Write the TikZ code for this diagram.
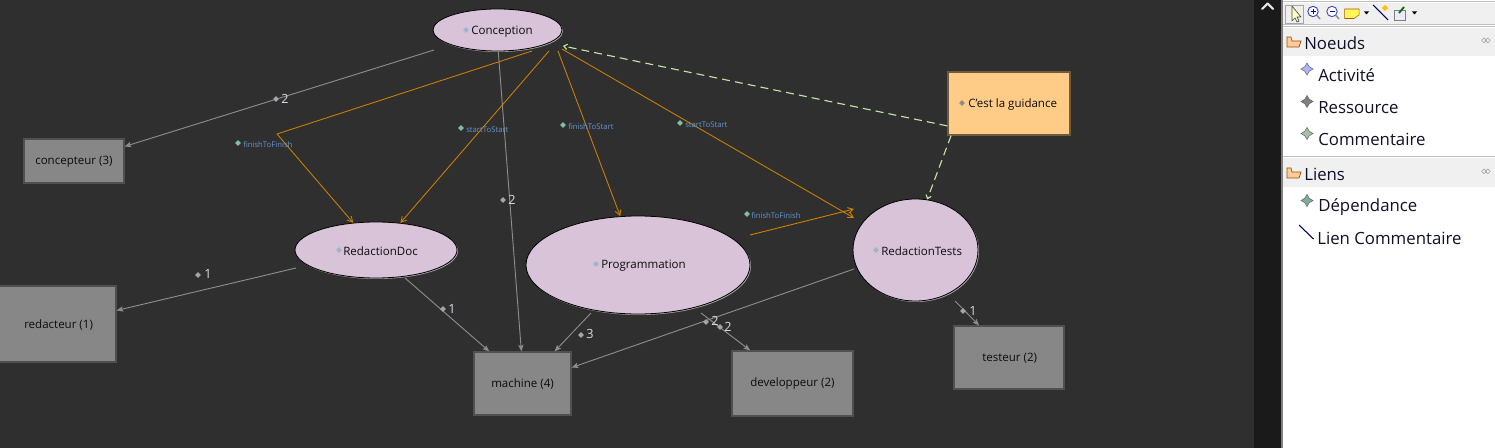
\documentclass[tikz,border=0pt]{standalone}
\usepackage{fontspec}
\setmainfont{Open Sans}
\usetikzlibrary{arrows.meta,shapes.geometric}
\definecolor{bgdark}{HTML}{2F2F2F}
\definecolor{stripdark}{HTML}{1A1A1A}
\definecolor{activ}{HTML}{D9C3D9}
\definecolor{resfill}{HTML}{878787}
\definecolor{resedge}{HTML}{505050}
\definecolor{notefill}{HTML}{FFCC88}
\definecolor{noteedge}{HTML}{6E5B3C}
\definecolor{depline}{HTML}{CC8000}
\definecolor{resline}{HTML}{8C8C8C}
\definecolor{dashline}{HTML}{C6E0A6}
\definecolor{deplabel}{HTML}{6497D0}
\definecolor{numlabel}{HTML}{DADAE6}
\definecolor{panelbar}{HTML}{F0F0F0}
\definecolor{sepgray}{HTML}{C0C0C0}
\definecolor{paneltext}{HTML}{101028}
\definecolor{depmk}{HTML}{7FC0A8}
\definecolor{capmk}{HTML}{9DB4CC}
\tikzset{
  x=0.75pt,y=-0.75pt,
  activity/.style={ellipse,draw=black,line width=0.6pt,fill=activ,inner sep=0pt},
  resbox/.style={rectangle,draw=resedge,line width=0.8pt,fill=resfill,inner sep=0pt},
  notebox/.style={rectangle,draw=noteedge,line width=0.9pt,fill=notefill,inner sep=0pt},
  txt/.style={inner sep=0pt,anchor=west,text=black!95,font=\fontsize{8.65}{11}\selectfont},
  deptxt/.style={inner sep=0pt,anchor=west,text=deplabel,font=\fontsize{5.8}{7}\selectfont},
  numtxt/.style={inner sep=0pt,anchor=west,text=numlabel,font=\fontsize{9.5}{11}\selectfont},
  paneltxt/.style={inner sep=0pt,anchor=west,text=paneltext,font=\fontsize{12.6}{15}\selectfont},
  dmk/.style={diamond,inner sep=0pt,minimum width=4.4pt,minimum height=4.4pt,fill=#1},
  iconmk/.style={star,star points=4,star point ratio=1.9,inner sep=0pt,minimum size=9pt,fill=#1,draw=black!60,line width=0.4pt},
  resarrow/.style={draw=resline,line width=0.7pt,-{Stealth[length=5pt,width=4pt,inset=1pt]}},
  deparrow/.style={draw=depline,line width=0.65pt,-{Straight Barb[length=4pt,width=4.4pt]}},
  noteline/.style={draw=dashline,line width=0.85pt,dash pattern=on 6pt off 3.8pt},
}
\begin{document}
\begin{tikzpicture}
\useasboundingbox (0,0) rectangle (1495,448);
\clip (0,0) rectangle (1495,448);
% backgrounds
\fill[bgdark] (0,0) rectangle (1254,448);
\fill[stripdark] (1254,0) rectangle (1281,448);
\fill[white] (1281,0) rectangle (1495,448);
\fill[bgdark!60] (1281,0) rectangle (1283,448);
\draw[white!90!black,line width=1.6pt,line cap=round,line join=round] (1262,9) -- (1267.5,3.5) -- (1273,9);

% activities (soft lower-right edge first)
\fill[white!65!black] (498.5,31) ellipse [x radius=64.5,y radius=21];
\fill[white!65!black] (377,251) ellipse [x radius=81,y radius=28];
\fill[white!65!black] (639,266) ellipse [x radius=112,y radius=49];
\fill[white!65!black] (916.5,251) ellipse [x radius=62.5,y radius=51];
\node[activity,minimum width=129*0.75pt,minimum height=42*0.75pt] (conception) at (497.5,30) {};
\node[activity,minimum width=162*0.75pt,minimum height=56*0.75pt] (doc) at (376,250) {};
\node[activity,minimum width=224*0.75pt,minimum height=98*0.75pt] (prog) at (638,265) {};
\node[activity,minimum width=125*0.75pt,minimum height=102*0.75pt] (tests) at (915.5,250) {};

% resources
\node[resbox,minimum width=100*0.75pt,minimum height=44*0.75pt] (concepteur) at (74,161) {};
\node[resbox,minimum width=126*0.75pt,minimum height=76*0.75pt] (redacteur) at (53,324) {};
\node[resbox,minimum width=97*0.75pt,minimum height=63*0.75pt] (machine) at (522.5,383.5) {};
\node[resbox,minimum width=121*0.75pt,minimum height=65*0.75pt] (developpeur) at (792.5,383.5) {};
\node[resbox,minimum width=110*0.75pt,minimum height=63*0.75pt] (testeur) at (1009,357.5) {};
\node[notebox,minimum width=122*0.75pt,minimum height=63*0.75pt] (note) at (1009,103.5) {};
\node[txt] (tConcepteur) at (35,162) {concepteur (3)};
\node[txt] (tRedacteur) at (24,325) {redacteur (1)};
\node[txt] (tMachine) at (491,384) {machine (4)};
\node[txt] (tDevel) at (750,384) {developpeur (2)};
\node[txt] (tTesteur) at (982,358) {testeur (2)};

% free ends of the connectors
\coordinate (sConcA) at (434,50);
\coordinate (sConcB) at (532,51);
\coordinate (bend) at (277,134);
\coordinate (sConcC) at (549,51);
\coordinate (sConcD) at (558,51);
\coordinate (sConcE) at (562,49);
\coordinate (eTestsA) at (854,218);
\coordinate (sProg) at (750,235);
\coordinate (eTestsB) at (854,209);
\coordinate (eConc) at (563,46);
\coordinate (sDocA) at (296,268);
\coordinate (sDocB) at (405,278);
\coordinate (sProgB) at (591,313);
\coordinate (sProgC) at (701,313);
\coordinate (sTestsA) at (854,269);
\coordinate (sTestsB) at (955,301);

% resource links
\draw[resarrow] (sConcA) -- (concepteur.16.7);
\draw[resarrow] (conception.272) -- (machine.92.7);
\draw[resarrow] (sDocA) -- (redacteur.12.5);
\draw[resarrow] (sDocB) -- (machine.136.8);
\draw[resarrow] (sProgB) -- (machine.45.9);
\draw[resarrow] (sProgC) -- (developpeur.142.6);
\draw[resarrow] (sTestsA) -- (machine.18.8);
\draw[resarrow] (sTestsB) -- (testeur.133.6);

% dependencies
\draw[deparrow,line join=miter] (sConcB) -- (bend) -- (doc.130.6);
\draw[deparrow] (sConcC) -- (doc.48.4);
\draw[deparrow] (sConcD) -- (prog.110);
\draw[deparrow] (sConcE) -- (eTestsA);
\draw[deparrow] (sProg) -- (eTestsB);

% comment links
\draw[noteline,-{Straight Barb[length=2.5pt,width=4pt]}] (note.200.2) -- (eConc);
\draw[noteline,-{Straight Barb[length=2.5pt,width=4pt]}] (note.209.4) -- (tests.77);

% node captions
\node[dmk=capmk] (mkConc) at (466,30) {};
\node[txt] (tConc) at (471,31.5) {Conception};
\node[dmk=capmk] (mkDoc) at (339,250) {};
\node[txt] (tDoc) at (343,251.5) {RedactionDoc};
\node[dmk=capmk] (mkProg) at (596,264) {};
\node[txt] (tProg) at (601,265.5) {Programmation};
\node[dmk=capmk] (mkTests) at (876,250) {};
\node[txt] (tTests) at (881,251.5) {RedactionTests};
\node[dmk=black!45] (mkNote) at (962,103) {};
\node[txt] (tNote) at (968,104.5) {C'est la guidance};

% dependency labels
\node[dmk=depmk] (mkA) at (238,143) {};
\node[deptxt] (lA) at (243,145) {finishToFinish};
\node[dmk=depmk] (mkB) at (461,128) {};
\node[deptxt] (lB) at (466,130) {startToStart};
\node[dmk=depmk] (mkC) at (563,125) {};
\node[deptxt] (lC) at (568,127) {finishToStart};
\node[dmk=depmk] (mkD) at (680,123) {};
\node[deptxt] (lD) at (685,125) {startToStart};
\node[dmk=depmk] (mkE) at (747,214) {};
\node[deptxt] (lE) at (751,216) {finishToFinish};

% resource link labels
\node[dmk=gray!70!white] (mkF) at (276,99) {};
\node[numtxt] (nF) at (281,99) {2};
\node[dmk=gray!70!white] (mkG) at (503,200) {};
\node[numtxt] (nG) at (508,200) {2};
\node[dmk=gray!70!white] (mkH) at (198,275) {};
\node[numtxt] (nH) at (204,274) {1};
\node[dmk=gray!70!white] (mkI) at (443,309) {};
\node[numtxt] (nI) at (448,309) {1};
\node[dmk=gray!70!white] (mkJ) at (581,335) {};
\node[numtxt] (nJ) at (586,334) {3};
\node[dmk=gray!70!white] (mkK) at (706,322) {};
\node[numtxt] (nK) at (711,321) {2};
\node[dmk=gray!70!white] (mkL) at (720,327) {};
\node[numtxt] (nL) at (724,327) {2};
\node[dmk=gray!70!white] (mkM) at (963,311) {};
\node[numtxt] (nM) at (969,311) {1};

% right-hand palette
\fill[panelbar] (1283,3) rectangle (1495,25);
\draw[sepgray,line width=0.75pt] (1283,2) -- (1495,2);
\draw[sepgray,line width=0.75pt] (1283,25) -- (1495,25);
\fill[panelbar] (1283,28) rectangle (1495,56);
\fill[panelbar] (1283,158) rectangle (1495,187);
\draw[sepgray,line width=0.75pt] (1283,27) -- (1495,27);
\draw[sepgray,line width=0.75pt] (1283,156.5) -- (1495,156.5);
% toolbar
\draw[gray!70,line width=0.5pt,fill=panelbar] (1285.5,5) rectangle (1303,23);
\draw[black!70,fill=yellow!25,line width=0.5pt,line join=round] (1292,6) -- (1292,21) -- (1295,18) -- (1297,22) -- (1299,21) -- (1297,17) -- (1301,17) -- cycle;
\draw[blue!50!gray,line width=0.7pt,fill=white] (1313,11.5) circle [radius=5.2];
\draw[black!45,line width=1.1pt] (1317,15.5) -- (1320,19);
\draw[blue!70!black,line width=0.6pt] (1310.5,11.5) -- (1315.5,11.5) (1313,9) -- (1313,14);
\draw[blue!40!gray,line width=0.7pt,fill=white] (1332,11.5) circle [radius=5.2];
\draw[black!45,line width=1.1pt] (1336,15.5) -- (1339,19);
\draw[blue!70!black,line width=0.6pt] (1329.5,11.5) -- (1334.5,11.5);
\fill[yellow!65!white,draw=orange!70!black,line width=0.4pt] (1344.5,9) -- (1359,9) -- (1359,15) -- (1354,18.5) -- (1344.5,18.5) -- cycle;
\fill[black] (1364,11.5) -- (1369,11.5) -- (1366.5,14.5) -- cycle;
\draw[blue!40!black,line width=0.8pt] (1373,5) -- (1388,20);
\node[diamond,fill=orange!50!yellow,inner sep=0pt,minimum width=5pt,minimum height=5pt] (icLink) at (1385,8) {};
\fill[blue!8,draw=gray,line width=0.4pt] (1394,10) rectangle (1405,20);
\draw[green!45!black,line width=1.4pt] (1399,13) -- (1404,7);
\fill[black] (1412,11.5) -- (1417,11.5) -- (1414.5,14.5) -- cycle;
% folder icons
\fill[orange!40!white,draw=orange!60!black,line width=0.5pt] (1287,37) -- (1287,47) -- (1299,47) -- (1301,41) -- (1292,41) -- (1291,37) -- cycle;
\fill[orange!40!white,draw=orange!60!black,line width=0.5pt] (1287,168) -- (1287,178) -- (1299,178) -- (1301,172) -- (1292,172) -- (1291,168) -- cycle;
% headers
\node[paneltxt] (hNoeuds) at (1304,43) {Noeuds};
\node[paneltxt] (hLiens) at (1304,174) {Liens};
\node[text=black!50,inner sep=0pt,font=\fontsize{8}{8}\selectfont] (colA) at (1486,41.5) {$\diamond\!\diamond$};
\node[text=black!50,inner sep=0pt,font=\fontsize{8}{8}\selectfont] (colB) at (1486,172.5) {$\diamond\!\diamond$};
% entries
\node[iconmk=blue!30!white] (icA) at (1307,69) {};
\node[paneltxt] (pA) at (1318,75) {Activité};
\node[iconmk=gray] (icB) at (1307,101.5) {};
\node[paneltxt] (pB) at (1318,108) {Ressource};
\node[iconmk=green!20!gray!60!white] (icC) at (1307,133.5) {};
\node[paneltxt] (pC) at (1318,139) {Commentaire};
\node[iconmk=depmk!70!gray] (icD) at (1307,200.5) {};
\node[paneltxt] (pD) at (1318,207) {Dépendance};
\draw[blue!40!black,line width=0.8pt] (1299,225) -- (1313.5,239);
\node[paneltxt] (pE) at (1317,238) {Lien Commentaire};
\end{tikzpicture}
\end{document}
